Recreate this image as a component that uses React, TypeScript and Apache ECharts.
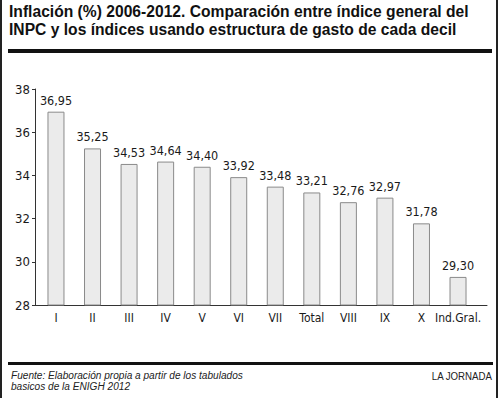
import React, { useEffect, useRef } from "react";
import * as echarts from "echarts";

const categories = ["I", "II", "III", "IV", "V", "VI", "VII", "Total", "VIII", "IX", "X", "Ind.Gral."];
const values = [36.95, 35.25, 34.53, 34.64, 34.4, 33.92, 33.48, 33.21, 32.76, 32.97, 31.78, 29.3];
const titleLines = [
  "Inflación (%) 2006-2012. Comparación entre índice general del",
  "INPC y los índices usando estructura de gasto de cada decil",
];
const footerLines = [
  "Fuente: Elaboración propia a partir de los tabulados",
  "basicos de la ENIGH 2012",
];
const credit = "LA JORNADA";
const yMin = 28;
const yMax = 38;
const yStep = 2;

const NARROW = '"DejaVu Sans Condensed", "Liberation Sans", sans-serif';
const SANS = '"Liberation Sans", Arial, sans-serif';

export default function App() {
  const ref = useRef<HTMLDivElement>(null);
  useEffect(() => {
    if (!ref.current) return;
    const chart = echarts.init(ref.current, undefined, { renderer: "svg" });
    chart.setOption({
      animation: false,
      backgroundColor: "#ffffff",
      grid: [
        { left: 35, top: 89, width: 452, height: 216 },
        { left: 37.7, top: 89, width: 438.6, height: 216 },
      ],
      xAxis: [
        {
          type: "value",
          gridIndex: 0,
          min: 0,
          max: 1,
          axisLine: { show: true, lineStyle: { color: "#333", width: 1 } },
          axisTick: { show: false },
          axisLabel: { show: false },
          splitLine: { show: false },
        },
        {
          type: "category",
          gridIndex: 1,
          data: categories,
          axisLine: { show: false },
          axisTick: { show: false },
          axisLabel: {
            margin: 7,
            fontFamily: NARROW,
            fontSize: 12,
            color: "#1a1a1a",
            interval: 0,
          },
        },
      ],
      yAxis: [
        {
          type: "value",
          gridIndex: 0,
          min: yMin,
          max: yMax,
          interval: yStep,
          axisLine: { show: true, lineStyle: { color: "#333", width: 1 } },
          axisTick: { show: true, length: 3, lineStyle: { color: "#333" } },
          axisLabel: { margin: 5, fontFamily: NARROW, fontSize: 13, color: "#1a1a1a" },
          splitLine: { show: false },
        },
        {
          type: "value",
          gridIndex: 1,
          min: yMin,
          max: yMax,
          show: false,
        },
      ],
      series: [
        {
          type: "bar",
          xAxisIndex: 1,
          yAxisIndex: 1,
          data: values,
          barWidth: 17,
          itemStyle: { color: "#ebebeb", borderColor: "#8a8a8a", borderWidth: 1 },
          label: {
            show: true,
            position: "top",
            distance: 5,
            fontFamily: NARROW,
            fontSize: 12.5,
            color: "#1a1a1a",
            formatter: (p: any) => p.value.toFixed(2).replace(".", ","),
          },
        },
      ],
      graphic: [
        { type: "rect", left: 0, top: 0, shape: { width: 2, height: 398 }, style: { fill: "#222" } },
        { type: "rect", left: 496, top: 0, shape: { width: 2, height: 398 }, style: { fill: "#222" } },
        { type: "rect", left: 8, top: 49, shape: { width: 484, height: 4 }, style: { fill: "#111" } },
        { type: "rect", left: 8, top: 362, shape: { width: 485, height: 3 }, style: { fill: "#111" } },
        {
          type: "text",
          x: 9,
          y: 2,
          scaleX: 0.92,
          style: {
            text: titleLines.join("\n"),
            font: `bold 17px ${SANS}`,
            lineHeight: 18,
            fill: "#111",
          },
        },
        {
          type: "text",
          x: 11,
          y: 369,
          scaleX: 0.92,
          style: {
            text: footerLines.join("\n"),
            font: `italic 11px ${SANS}`,
            lineHeight: 11.5,
            fill: "#222",
          },
        },
        {
          type: "text",
          x: 492,
          y: 376,
          scaleX: 0.88,
          style: {
            text: credit,
            font: `11px ${SANS}`,
            fill: "#222",
            align: "right",
            verticalAlign: "middle",
          },
        },
      ],
    });
    return () => chart.dispose();
  }, []);
  return (
    <div
      ref={ref}
      style={{ position: "fixed", left: 0, top: 0, width: 500, height: 398 }}
    />
  );
}
